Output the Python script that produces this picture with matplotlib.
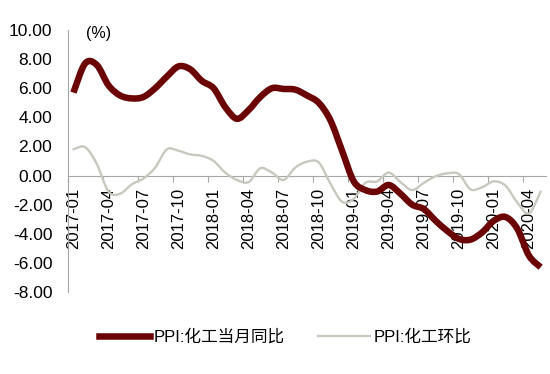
import numpy as np
import matplotlib
matplotlib.use('Agg')
import matplotlib.pyplot as plt
from matplotlib.path import Path
from matplotlib.patches import PathPatch
from matplotlib.lines import Line2D

plt.rcParams['font.family'] = ['Liberation Sans', 'Noto Sans CJK SC', 'DejaVu Sans']
plt.rcParams['axes.unicode_minus'] = False

# PPI: chemical industry, monthly 2017-01 .. 2020-05 (%)
tick_labels = ['2017-01', '2017-04', '2017-07', '2017-10', '2018-01', '2018-04',
               '2018-07', '2018-10', '2019-01', '2019-04', '2019-07', '2019-10',
               '2020-01', '2020-04']
yoy = [5.7, 7.7, 7.6, 6.2, 5.5, 5.3, 5.4, 6.0, 6.8, 7.5, 7.3, 6.5, 6.0, 4.7,
       3.9, 4.5, 5.4, 6.0, 5.95, 5.9, 5.5, 5.0, 3.8, 1.7, -0.4, -1.0, -1.1,
       -0.65, -1.25, -2.0, -2.3, -3.1, -3.8, -4.35, -4.4, -3.9, -3.1, -2.85,
       -3.65, -5.5, -6.3]
mom = [1.8, 1.95, 0.8, -1.1, -1.25, -0.6, -0.2, 0.55, 1.8, 1.7, 1.45, 1.35,
       1.0, 0.2, -0.3, -0.45, 0.5, 0.2, -0.3, 0.55, 0.95, 0.9, -0.55, -1.8,
       -1.6, -0.5, -0.4, 0.2, -0.45, -1.0, -0.5, -0.05, 0.15, 0.1, -0.95, -0.8,
       -0.4, -0.7, -1.85, -2.6, -1.1]
yoy_name = 'PPI:化工当月同比'
mom_name = 'PPI:化工环比'

dark = '#6B0505'
light = '#C8C8BF'


def smooth_path(y):
    # Excel-like smoothed line: cubic Bezier segments (Catmull-Rom)
    x = np.arange(len(y), dtype=float)
    y = np.asarray(y, dtype=float)
    px = np.concatenate([[x[0]], x, [x[-1]]])
    py = np.concatenate([[y[0]], y, [y[-1]]])
    verts = [(x[0], y[0])]
    codes = [Path.MOVETO]
    for i in range(len(x) - 1):
        j = i + 1
        c1 = (px[j] + (px[j + 1] - px[j - 1]) / 6, py[j] + (py[j + 1] - py[j - 1]) / 6)
        c2 = (px[j + 1] - (px[j + 2] - px[j]) / 6, py[j + 1] - (py[j + 2] - py[j]) / 6)
        verts += [c1, c2, (px[j + 1], py[j + 1])]
        codes += [Path.CURVE4] * 3
    return Path(verts, codes)


fig = plt.figure(figsize=(5.5, 3.74), dpi=100)
ax = fig.add_axes([0.1229, 0.2193, 0.9936 - 0.1229, 0.9198 - 0.2193])

n = len(yoy)
ax.add_patch(PathPatch(smooth_path(mom), fill=False, edgecolor=light, lw=1.7,
                       capstyle='round', joinstyle='round', zorder=3))
ax.add_patch(PathPatch(smooth_path(yoy), fill=False, edgecolor=dark, lw=4.7,
                       capstyle='butt', joinstyle='round', zorder=4))

ax.set_xlim(-0.5, n - 0.5)
ax.set_ylim(-8, 10)
ax.set_yticks(np.arange(-8, 10.01, 2))
ax.yaxis.set_major_formatter(plt.FormatStrFormatter('%.2f'))
ax.tick_params(axis='y', length=0, pad=11, labelsize=12.5, colors='black')

for s in ['top', 'right']:
    ax.spines[s].set_visible(False)
ax.spines['left'].set_color('#A6A6A6')
ax.spines['bottom'].set_color('#A6A6A6')
ax.spines['bottom'].set_position(('data', 0))
ax.spines['bottom'].set_zorder(2)

# tick marks on category boundaries, labels on category centres
ax.set_xticks(np.arange(-0.5, n, 3))
ax.set_xticklabels([])
ax.tick_params(axis='x', which='major', length=4.5, color='#A6A6A6', direction='out')
ax.set_xticks(np.arange(0, n, 3), minor=True)
ax.set_xticklabels(tick_labels, minor=True, rotation=90, fontsize=12)
ax.tick_params(axis='x', which='minor', length=0, pad=9)

fig.text(0.179, 0.91, '(%)', fontsize=11.5, ha='center', va='center')

handles = [Line2D([], [], color=dark, lw=4.7), Line2D([], [], color=light, lw=1.7)]
fig.legend(handles, [yoy_name, mom_name], loc='center', bbox_to_anchor=(0.518, 0.099),
           ncol=2, frameon=False, fontsize=12, handlelength=3.1,
           handletextpad=0.2, columnspacing=2.0)

fig.savefig('out.png', dpi=100)
